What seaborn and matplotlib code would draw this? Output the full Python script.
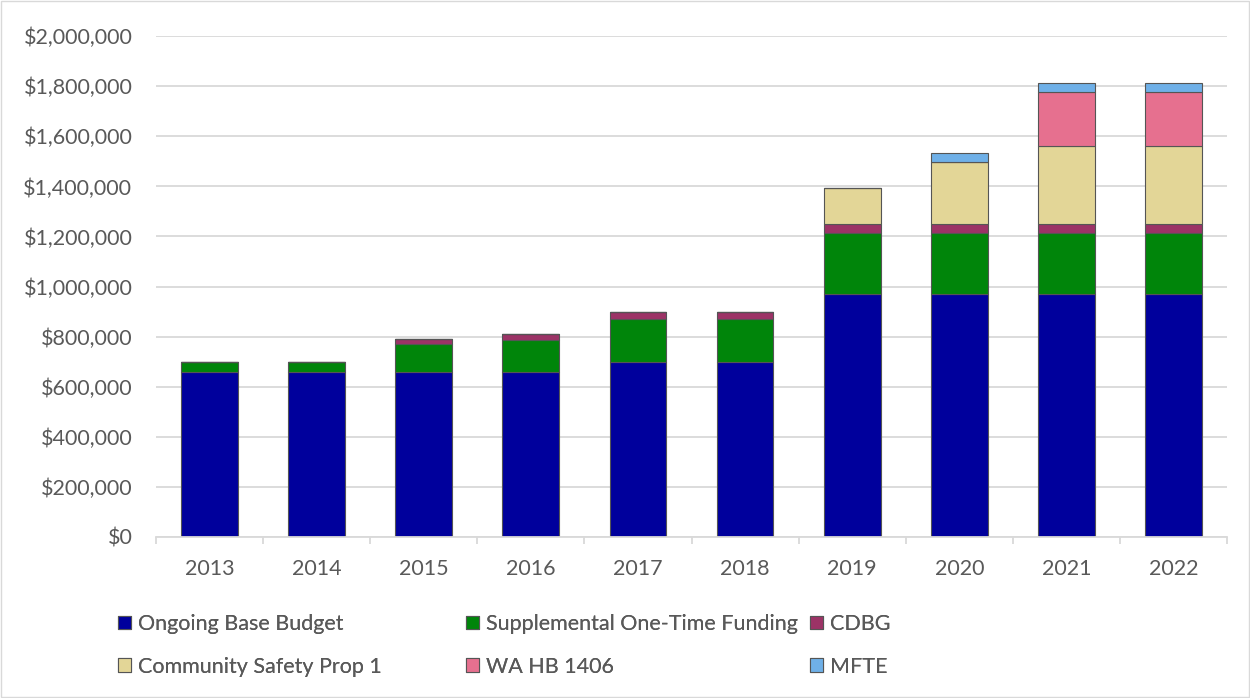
import matplotlib
matplotlib.use("Agg")
import matplotlib.pyplot as plt
import numpy as np
import pandas as pd
import seaborn as sns
from matplotlib.patches import Patch, Rectangle
from matplotlib.ticker import FuncFormatter

years = ["2013", "2014", "2015", "2016", "2017", "2018", "2019", "2020", "2021", "2022"]
ongoing_base = [660000, 660000, 660000, 660000, 700000, 700000, 970000, 970000, 972000, 972000]
supplemental = [40000, 40000, 110000, 126000, 170000, 170000, 242000, 242000, 242000, 242000]
cdbg = [0, 0, 20000, 24000, 28000, 30000, 36000, 36000, 36000, 36000]
prop1 = [0, 0, 0, 0, 0, 0, 146000, 250000, 311000, 311000]
hb1406 = [0, 0, 0, 0, 0, 0, 0, 0, 215000, 215000]
mfte = [0, 0, 0, 0, 0, 0, 0, 36000, 36000, 36000]

series = [
    ("Ongoing Base Budget", ongoing_base, "#00009C"),
    ("Supplemental One-Time Funding", supplemental, "#00850A"),
    ("CDBG", cdbg, "#9C3366"),
    ("Community Safety Prop 1", prop1, "#E3D697"),
    ("WA HB 1406", hb1406, "#E6708F"),
    ("MFTE", mfte, "#6FB0E8"),
]

sns.set_theme(style="white")
plt.rcParams["font.family"] = ["Lato", "DejaVu Sans"]

fig = plt.figure(figsize=(12.5, 6.98), dpi=100)
ax = fig.add_axes([0.1248, 0.231, 0.8568, 0.717])

bottom = np.zeros(len(years))
handles = []
for name, vals, color in series:
    df = pd.DataFrame({"year": years, "value": vals})
    sns.barplot(data=df, x="year", y="value", color=color, bottom=bottom,
                width=0.53, edgecolor="#555555", linewidth=0.8, saturation=1, ax=ax)
    bottom = bottom + np.array(vals)
    handles.append(Patch(facecolor=color, edgecolor="#555555", linewidth=0.8, label=name))

ax.set_ylim(0, 2000000)
ax.set_xlim(-0.5, len(years) - 0.5)
ax.set_yticks(np.arange(0, 2000001, 200000))
ax.yaxis.set_major_formatter(FuncFormatter(lambda v, p: f"${v:,.0f}"))
ax.set_xlabel("")
ax.set_ylabel("")
ax.grid(axis="y", color="#D9D9D9", linewidth=1.3)
ax.set_axisbelow(True)
for s in ["top", "right", "left"]:
    ax.spines[s].set_visible(False)
ax.spines["bottom"].set_color("#D9D9D9")
ax.spines["bottom"].set_linewidth(1.3)
ax.tick_params(axis="y", labelsize=15.5, colors="#595959", length=0, pad=17)
ax.tick_params(axis="x", labelsize=15.5, colors="#595959", length=0, pad=16)

# small tick marks between categories
ax.set_xticks(np.arange(-0.5, len(years), 1), minor=True)
ax.tick_params(axis="x", which="minor", bottom=True, length=5, color="#D9D9D9", width=1.3)

# legend laid out in three columns like the original
cols = [[0, 3], [1, 4], [2, 5]]
xs = [118 / 1250, 466 / 1250, 810 / 1250]
for x0, idx in zip(xs, cols):
    leg = fig.legend(handles=[handles[i] for i in idx], loc="upper left",
                     bbox_to_anchor=(x0, 0.1203), frameon=False, fontsize=15.5,
                     handlelength=0.6, handleheight=0.6, handletextpad=0.33,
                     labelspacing=1.05, borderpad=0, borderaxespad=0,
                     labelcolor="#595959")
    fig.add_artist(leg)

fig.add_artist(Rectangle((0.001, 0.001), 0.998, 0.998, transform=fig.transFigure,
                         fill=False, edgecolor="#D9D9D9", linewidth=1))

fig.savefig("out.png", dpi=100)
